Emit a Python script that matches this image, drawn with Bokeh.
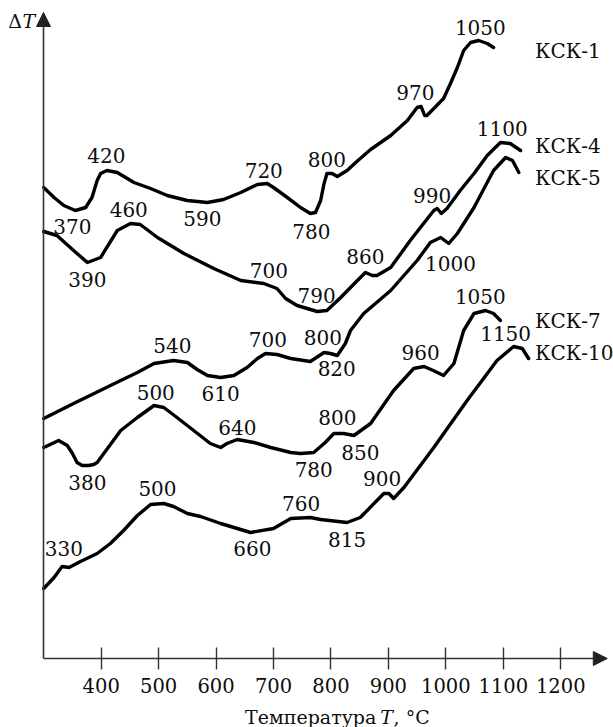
from bokeh.plotting import figure
from bokeh.models import Range1d, FixedTicker, Arrow, NormalHead, ColumnDataSource
from bokeh.core.properties import value
from bokeh.embed import file_html
from bokeh.resources import INLINE

# ---- DTA curves: temperature (°C) and ΔT (arbitrary units, curves offset) ----
ksk1_T = [300, 318, 335, 355, 373, 384, 393, 399, 410, 428, 457, 486, 515, 550, 585, 613, 643, 672, 689, 700,
          724, 747, 764, 773, 782, 788, 793, 802, 811, 828, 845, 869, 904, 933, 950, 957, 963, 967, 979, 996,
          1008, 1020, 1031, 1043, 1057, 1072, 1083]
ksk1_dT = [471, 461, 453, 448, 451, 461, 478, 485, 488, 486, 476, 470, 463, 458, 456, 459, 466, 474, 475, 471,
           461, 451, 445, 446, 458, 475, 485, 485, 482, 488, 497, 509, 523, 538, 551, 552, 543, 543, 550, 560,
           575, 591, 608, 616, 618, 615, 611]

ksk4_T = [300, 323, 352, 376, 399, 428, 451, 468, 498, 544, 596, 643, 683, 706, 721, 741, 776, 793, 817, 846,
          860, 872, 880, 904, 938, 979, 985, 992, 1002, 1025, 1049, 1072, 1095, 1112, 1130]
ksk4_dT = [427, 423, 408, 396, 401, 428, 435, 434, 421, 405, 390, 378, 375, 370, 360, 353, 347, 348, 361, 378,
           386, 383, 383, 391, 418, 448, 450, 445, 450, 468, 485, 503, 516, 515, 508]

ksk5_T = [300, 352, 434, 463, 492, 526, 550, 567, 585, 608, 631, 654, 672, 686, 706, 730, 764, 788, 799, 811,
          825, 834, 857, 904, 950, 973, 991, 1005, 1020, 1049, 1083, 1104, 1116, 1127]
ksk5_dT = [240, 255, 278, 286, 295, 298, 296, 289, 283, 281, 283, 291, 300, 305, 304, 300, 297, 306, 305, 303,
           315, 328, 345, 368, 398, 416, 421, 415, 425, 451, 488, 501, 498, 486]

ksk7_T = [300, 326, 341, 350, 358, 367, 378, 387, 393, 434, 463, 492, 509, 532, 561, 590, 608, 619, 637, 666,
          695, 730, 747, 770, 790, 805, 822, 840, 869, 909, 944, 962, 978, 996, 1014, 1031, 1049, 1069, 1083,
          1095]
ksk7_dT = [211, 218, 213, 205, 196, 193, 193, 194, 196, 228, 241, 253, 251, 241, 228, 215, 211, 215, 219, 216,
           211, 206, 205, 206, 216, 225, 225, 223, 235, 268, 290, 292, 288, 283, 295, 328, 345, 348, 345, 338]

ksk10_T = [300, 318, 332, 344, 364, 393, 416, 439, 463, 486, 509, 526, 550, 573, 608, 660, 700, 730, 764, 782,
           828, 851, 892, 901, 909, 927, 979, 1037, 1089, 1118, 1133, 1144]
ksk10_dT = [70, 81, 92, 91, 97, 105, 115, 128, 143, 154, 155, 152, 145, 142, 135, 126, 130, 140, 141, 139,
            136, 141, 165, 165, 160, 171, 211, 258, 298, 312, 310, 300]

# ---- peak / trough temperature labels ----
ksk1_lbl = ["420", "370", "590", "720", "780", "800", "970", "1050"]
ksk4_lbl = ["460", "390", "700", "790", "860", "990", "1100"]
ksk5_lbl = ["540", "610", "700", "800", "820", "1000"]
ksk7_lbl = ["380", "500", "640", "780", "800", "850", "960", "1050"]
ksk10_lbl = ["330", "500", "660", "760", "815", "900", "1150"]
names = ["КСК-1", "КСК-4", "КСК-5", "КСК-7", "КСК-10"]
x_ticks = [400, 500, 600, 700, 800, 900, 1000, 1100, 1200]

# label anchor positions (annotation placement)
ksk1_pos = ([409, 350, 576, 683, 766, 793, 947, 1060], [503, 432, 440, 488, 427, 499, 566, 631])
ksk4_pos = ([448, 376, 692, 775, 860, 976, 1098], [449, 379, 388, 363, 402, 463, 530])
ksk5_pos = ([524, 608, 690, 786, 810, 1008], [313, 265, 319, 321, 290, 395])
ksk7_pos = ([376, 495, 637, 770, 811, 851, 956, 1060], [176, 266, 231, 189, 241, 206, 306, 362])
ksk10_pos = ([335, 498, 663, 748, 828, 889, 1104], [110, 170, 110, 155, 119, 180, 325])
name_pos = ([1155] * 5, [608, 513, 481, 338, 306])

T0, T_END, DT_TOP = 299.6, 1281, 646   # axis origin / arrow tips

FONT = "DejaVu Serif"
INK = "#0d0d0d"

p = figure(width=613, height=727, output_backend="svg", toolbar_location=None,
           x_range=Range1d(224.75, 1291.8), y_range=Range1d(-69, 658), min_border=0)
p.outline_line_color = None
p.grid.visible = False
p.background_fill_color = "white"
p.border_fill_color = "white"
p.yaxis.visible = False

# x axis drawn at ΔT = 0 inside the frame
xa = p.xaxis[0]
xa.fixed_location = 0
xa.ticker = FixedTicker(ticks=x_ticks)
xa.major_tick_in = 11
xa.major_tick_out = 11
xa.minor_tick_line_color = None
xa.axis_line_color = None
xa.major_tick_line_color = "#333333"
xa.major_tick_line_width = 1.4
xa.major_label_text_font = FONT
xa.major_label_text_font_size = "19.5px"
xa.major_label_text_color = INK
xa.major_label_standoff = 8

# axis lines with arrow heads
p.add_layout(Arrow(end=NormalHead(size=14, fill_color="#222222", line_color="#222222"),
                   x_start=T0, y_start=0, x_end=T_END, y_end=0,
                   line_color="#333333", line_width=1.6))
p.add_layout(Arrow(end=NormalHead(size=14, fill_color="#222222", line_color="#222222"),
                   x_start=T0, y_start=0, x_end=T0, y_end=DT_TOP,
                   line_color="#333333", line_width=1.6))

curves = [(ksk1_T, ksk1_dT), (ksk4_T, ksk4_dT), (ksk5_T, ksk5_dT), (ksk7_T, ksk7_dT), (ksk10_T, ksk10_dT)]
for T, dT in curves:
    src = ColumnDataSource(dict(T=T, dT=dT))
    p.line("T", "dT", source=src, line_color="black", line_width=3.4,
           line_join="round", line_cap="round")

for txt, pos in [(ksk1_lbl, ksk1_pos), (ksk4_lbl, ksk4_pos), (ksk5_lbl, ksk5_pos),
                 (ksk7_lbl, ksk7_pos), (ksk10_lbl, ksk10_pos)]:
    src = ColumnDataSource(dict(x=pos[0], y=pos[1], t=txt))
    p.text("x", "y", text="t", source=src, text_font=value(FONT), text_font_size="20px",
           text_align="center", text_baseline="middle", text_color=INK)

src = ColumnDataSource(dict(x=name_pos[0], y=name_pos[1], t=names))
p.text("x", "y", text="t", source=src, text_font=value(FONT), text_font_size="20px",
       text_align="left", text_baseline="middle", text_color=INK)

# axis titles: "ΔT" at the top of the vertical axis, "Температура T, °C" under the x axis
title_src = ColumnDataSource(dict(x=[250, 274, 879, 897, 909], y=[638, 638, -58, -58, -58],
                                  t=["Δ", "T", "Температура", "T", ", °C"],
                                  align=["center", "center", "right", "center", "left"],
                                  style=["normal", "italic", "normal", "italic", "normal"]))
p.text("x", "y", text="t", source=title_src, text_font=value(FONT), text_font_size="19px",
       text_align="align", text_baseline="middle", text_font_style="style", text_color=INK)

open("out.html", "w").write(file_html(p, INLINE))
